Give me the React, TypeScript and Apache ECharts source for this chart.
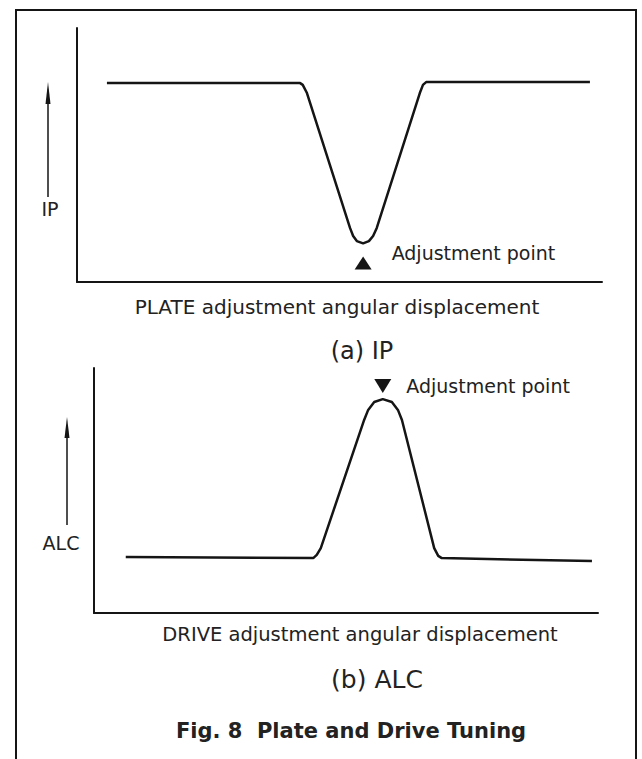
import React, { useEffect, useRef } from "react";
import * as echarts from "echarts";

// (a) IP curve vs PLATE adjustment angular displacement (relative units 0-100)
const plateDisp = [5.7, 42.5, 43.0, 43.8, 52.0, 52.6, 53.3, 54.5, 55.6, 56.4, 57.1, 65.3, 65.9, 66.5, 97.7];
const ipValue = [78.3, 78.3, 77.6, 74.4, 21.3, 18.1, 16.1, 15.2, 16.1, 18.1, 21.3, 74.4, 77.6, 78.7, 78.7];
const plateAdjPoint = [54.5, 7.5];

// (b) ALC curve vs DRIVE adjustment angular displacement (relative units 0-100)
const driveDisp = [6.3, 43.5, 44.2, 45.0, 53.6, 54.4, 55.6, 57.3, 59.1, 60.3, 61.1, 67.5, 68.3, 69.0, 98.8];
const alcValue = [22.9, 22.4, 23.7, 26.5, 78.8, 82.9, 86.1, 87.3, 86.1, 82.9, 78.8, 26.5, 23.3, 22.4, 21.2];
const driveAdjPoint = [57.3, 92.7];

const texts = {
  plateAxis: "PLATE adjustment angular displacement",
  driveAxis: "DRIVE adjustment angular displacement",
  ipLabel: "IP",
  alcLabel: "ALC",
  titleA: "(a) IP",
  titleB: "(b) ALC",
  figTitle: "Fig. 8  Plate and Drive Tuning",
  adj: "Adjustment point",
};

const INK = "#151515";
const FONT = "DejaVu Sans";

export default function App() {
  const ref = useRef<HTMLDivElement>(null);
  useEffect(() => {
    document.body.style.margin = "0";
    const chart = echarts.init(ref.current!, null, { renderer: "svg" });
    const axisLine = { show: true, onZero: false, lineStyle: { color: INK, width: 2 } };
    const xBase = (gridIndex: number) => ({
      type: "value" as const, gridIndex, min: 0, max: 100,
      axisLine, axisTick: { show: false }, axisLabel: { show: false }, splitLine: { show: false },
    });
    const yBase = (gridIndex: number) => ({
      type: "value" as const, gridIndex, min: 0, max: 100,
      axisLine, axisTick: { show: false }, axisLabel: { show: false }, splitLine: { show: false },
    });
    const txt = (x: number, y: number, text: string, size: number, weight = "normal", align = "center") => ({
      type: "text", x, y,
      style: { text, fill: "#222", font: `${weight} ${size}px "${FONT}"`, textAlign: align, textVerticalAlign: "middle" },
    });
    chart.setOption({
      animation: false,
      backgroundColor: "#fff",
      grid: [
        { left: 77, top: 28, width: 525, height: 254 },
        { left: 94, top: 368, width: 504, height: 245 },
      ],
      xAxis: [xBase(0), xBase(1)],
      yAxis: [yBase(0), yBase(1)],
      series: [
        {
          type: "line", xAxisIndex: 0, yAxisIndex: 0, showSymbol: false, silent: true,
          lineStyle: { color: INK, width: 2.5 },
          data: plateDisp.map((x, i) => [x, ipValue[i]]),
        },
        {
          type: "line", xAxisIndex: 1, yAxisIndex: 1, showSymbol: false, silent: true,
          lineStyle: { color: INK, width: 2.5 },
          data: driveDisp.map((x, i) => [x, alcValue[i]]),
        },
        {
          type: "scatter", xAxisIndex: 0, yAxisIndex: 0, symbol: "triangle", symbolSize: [17, 13], silent: true,
          itemStyle: { color: INK, opacity: 1 },
          label: { show: true, position: "right", distance: 20, offset: [0, -10], formatter: texts.adj,
            color: "#222", fontSize: 19, fontFamily: FONT },
          data: [plateAdjPoint],
        },
        {
          type: "scatter", xAxisIndex: 1, yAxisIndex: 1, symbol: "triangle", symbolRotate: 180, symbolSize: [17, 14], silent: true,
          itemStyle: { color: INK, opacity: 1 },
          label: { show: true, position: "right", distance: 15, offset: [0, 0], formatter: texts.adj,
            color: "#222", fontSize: 19, fontFamily: FONT },
          data: [driveAdjPoint],
        },
      ],
      graphic: [
        { type: "polyline", shape: { points: [[16, 770], [16, 10], [636, 10], [636, 770]] },
          style: { stroke: INK, lineWidth: 2, fill: null } },
        { type: "line", shape: { x1: 48, y1: 197, x2: 48, y2: 98 }, style: { stroke: INK, lineWidth: 1.5 } },
        { type: "polygon", shape: { points: [[45.5, 104], [48, 82], [50.5, 104]] }, style: { fill: INK } },
        { type: "line", shape: { x1: 67, y1: 525, x2: 67, y2: 432 }, style: { stroke: INK, lineWidth: 1.5 } },
        { type: "polygon", shape: { points: [[64.5, 438], [67, 417], [69.5, 438]] }, style: { fill: INK } },
        txt(50, 209, texts.ipLabel, 19),
        txt(61, 543, texts.alcLabel, 19),
        txt(337, 307, texts.plateAxis, 20),
        txt(360, 634, texts.driveAxis, 19.5),
        txt(362, 351, texts.titleA, 24),
        txt(377, 679, texts.titleB, 25),
        txt(351, 731, texts.figTitle, 21, "bold"),
      ],
    });
    return () => chart.dispose();
  }, []);
  return <div ref={ref} style={{ width: 642, height: 759 }} />;
}
